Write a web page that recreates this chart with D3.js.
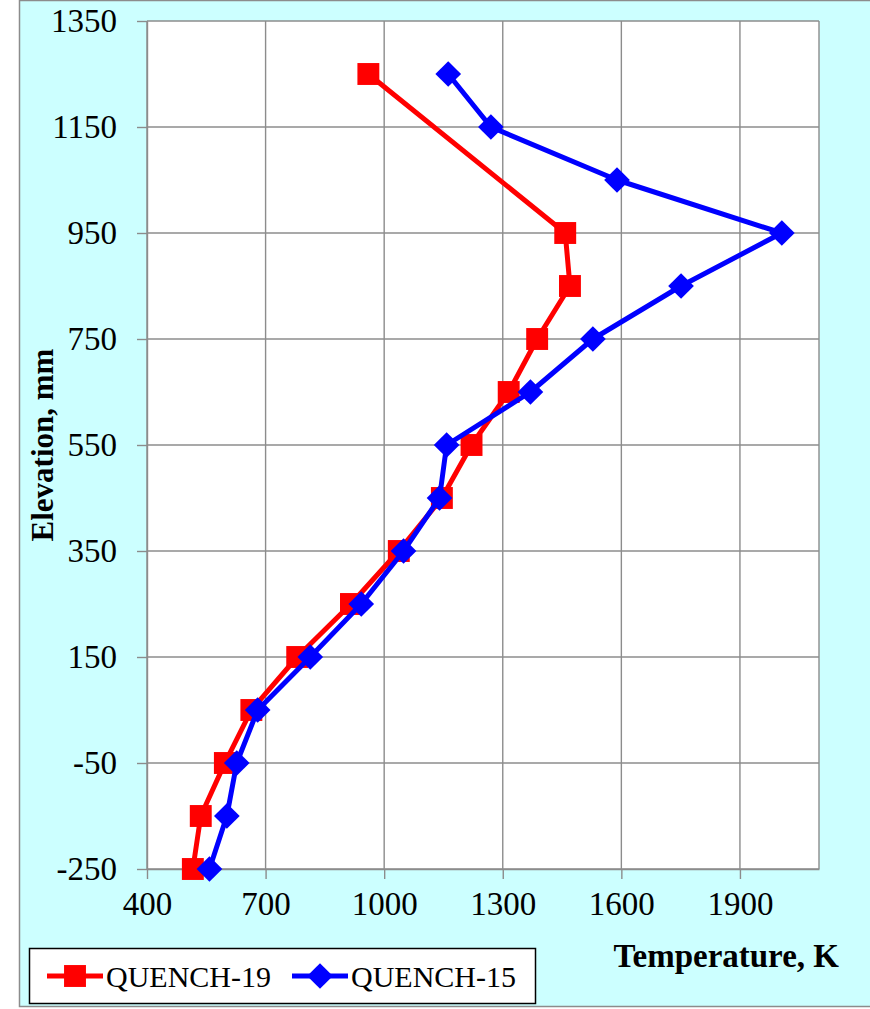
<!doctype html>
<html lang="en">
<head>
<meta charset="utf-8">
<title>Elevation vs temperature</title>
<script src="https://cdn.jsdelivr.net/npm/d3@7"></script>
<style>
  body { margin: 0; background: #fff; }
  svg text { font-family: "Liberation Serif", "DejaVu Serif", serif; fill: #000; }
</style>
</head>
<body>
<div id="chart"></div>
<script>

// elevations, mm
var elevQ19 = [-250, -150, -50, 50, 150, 250, 350, 450, 550, 650, 750, 850, 950, 1250];
var elevQ15 = [-250, -150, -50, 50, 150, 250, 350, 450, 550, 650, 750, 850, 950, 1050, 1150, 1250];

// temperatures, K
var tempQ19 = [516, 536, 597, 664, 780, 916, 1037, 1146, 1221, 1315, 1387, 1470, 1458, 960];
var tempQ15 = [558, 602, 627, 680, 813, 942, 1049, 1140, 1158, 1370, 1528, 1751, 2006, 1589, 1270, 1162];

var xTicks = [400, 700, 1000, 1300, 1600, 1900];
var yTicks = [-250, -50, 150, 350, 550, 750, 950, 1150, 1350];
var seriesNames = ["QUENCH-19", "QUENCH-15"];

var width = 870, height = 1009;
var plot = {left: 147, top: 21, right: 819, bottom: 869};

var svg = d3.select("#chart").append("svg")
    .attr("width", width)
    .attr("height", height);

// outer chart area
svg.append("rect")
    .attr("x", 19.5).attr("y", 0.5)
    .attr("width", 880).attr("height", 1006)
    .attr("fill", "#ccffff")
    .attr("stroke", "#8c8c8c")
    .attr("stroke-width", 1.5);

var x = d3.scaleLinear().domain([400, 2100]).range([plot.left, plot.right]);
var y = d3.scaleLinear().domain([-250, 1350]).range([plot.bottom, plot.top]);

svg.append("rect")
    .attr("x", plot.left).attr("y", plot.top)
    .attr("width", plot.right - plot.left)
    .attr("height", plot.bottom - plot.top)
    .attr("fill", "#fff");

// grid
var grid = svg.append("g").attr("stroke", "#8c8c8c").attr("stroke-width", 1.4);
grid.selectAll("line.v").data(xTicks.concat([2100])).enter().append("line")
    .attr("x1", function(d) { return x(d); }).attr("x2", function(d) { return x(d); })
    .attr("y1", plot.top).attr("y2", plot.bottom);
grid.selectAll("line.h").data(yTicks).enter().append("line")
    .attr("y1", function(d) { return y(d); }).attr("y2", function(d) { return y(d); })
    .attr("x1", plot.left).attr("x2", plot.right);

// axes
var plain = function(d) { return String(d); };
var xAxis = svg.append("g")
    .attr("transform", "translate(0," + plot.bottom + ")")
    .call(d3.axisBottom(x).tickValues(xTicks).tickFormat(plain).tickSize(10).tickPadding(13).tickSizeOuter(0));
var yAxis = svg.append("g")
    .attr("transform", "translate(" + plot.left + ",0)")
    .call(d3.axisLeft(y).tickValues(yTicks).tickFormat(plain).tickSize(10).tickPadding(20).tickSizeOuter(0));

[xAxis, yAxis].forEach(function(a) {
  a.select(".domain").attr("stroke", "#8c8c8c").attr("stroke-width", 1.4);
  a.selectAll(".tick line").attr("stroke", "#8c8c8c").attr("stroke-width", 1.4);
  a.selectAll(".tick text")
    .attr("font-family", "Liberation Serif")
    .attr("font-size", 33)
    .attr("fill", "#000");
});
xAxis.selectAll(".tick text").attr("dy", "0.71em");

// axis titles
svg.append("text")
    .attr("transform", "translate(53,445) rotate(-90)")
    .attr("text-anchor", "middle")
    .attr("font-size", 31)
    .attr("font-weight", "bold")
    .text("Elevation, mm");

svg.append("text")
    .attr("x", 839).attr("y", 967)
    .attr("text-anchor", "end")
    .attr("font-size", 33)
    .attr("font-weight", "bold")
    .text("Temperature, K");

// series
var series = [
  {name: seriesNames[0], temp: tempQ19, elev: elevQ19, color: "#ff0000", size: 480, rot: 0},
  {name: seriesNames[1], temp: tempQ15, elev: elevQ15, color: "#0000ff", size: 330, rot: 45}
];

var line = d3.line()
    .x(function(d) { return x(d[0]); })
    .y(function(d) { return y(d[1]); });

series.forEach(function(s) {
  var pts = d3.zip(s.temp, s.elev);
  svg.append("path")
      .datum(pts)
      .attr("d", line)
      .attr("fill", "none")
      .attr("stroke", s.color)
      .attr("stroke-width", 5)
      .attr("stroke-linejoin", "round");
  svg.selectAll(null).data(pts).enter().append("path")
      .attr("d", d3.symbol().type(d3.symbolSquare).size(s.size))
      .attr("transform", function(d) { return "translate(" + x(d[0]) + "," + y(d[1]) + ") rotate(" + s.rot + ")"; })
      .attr("fill", s.color);
});

// legend
var legend = svg.append("g");
legend.append("rect")
    .attr("x", 29.5).attr("y", 948.5)
    .attr("width", 506).attr("height", 55)
    .attr("fill", "#fff")
    .attr("stroke", "#000")
    .attr("stroke-width", 1.5);

var legX = [47, 292];
series.forEach(function(s, i) {
  var g = legend.append("g").attr("transform", "translate(" + legX[i] + ",976)");
  g.append("line").attr("x1", 0).attr("x2", 56)
      .attr("stroke", s.color).attr("stroke-width", 5);
  g.append("path")
      .attr("d", d3.symbol().type(d3.symbolSquare).size(s.size))
      .attr("transform", "translate(28,0) rotate(" + s.rot + ")")
      .attr("fill", s.color);
  g.append("text")
      .attr("x", 59).attr("y", 0)
      .attr("dy", "0.35em")
      .attr("font-size", 30)
      .text(s.name);
});

</script>
</body>
</html>
